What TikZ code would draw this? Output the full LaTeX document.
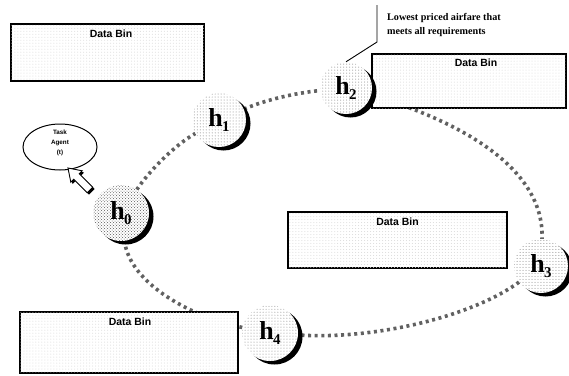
\documentclass[tikz,border=0pt]{standalone}
\usepackage{fontspec}
\setmainfont{Liberation Serif}
\newfontfamily\binfont{Liberation Sans}
\usetikzlibrary{patterns,calc,shapes.geometric}
\pgfdeclarelayer{background}
\pgfsetlayers{background,main}
\begin{document}
\begin{tikzpicture}[x=1bp,y=-1bp,
  bin/.style={rectangle, draw=black, line width=1.2bp, inner sep=0,
    fill=white, postaction={pattern=dots, pattern color=black!15}},
  bintitle/.style={inner sep=0, font=\binfont\bfseries\fontsize{10.5}{10.5}\selectfont},
  ring/.style={draw=black!62, line width=3.6bp, dash pattern=on 3bp off 3.6bp},
  host/.style={circle, inner sep=0, fill=white},
  callout/.style={draw=black, line width=0.9bp},
]
\useasboundingbox (0,0) rectangle (569,375);

% data bins
\node[bin, minimum width=193bp, minimum height=57bp] (bin1) at (107.5,52.5) {};
\node[bin, minimum width=194bp, minimum height=54bp] (bin2) at (469,81) {};
\node[bin, minimum width=219bp, minimum height=56bp] (bin3) at (397.5,240) {};
\node[bin, minimum width=218bp, minimum height=61bp] (bin4) at (129,342.5) {};
\node[bintitle] (t1) at ($(bin1.north)+(3.5,10)$) {Data Bin};
\node[bintitle] (t2) at ($(bin2.north)+(7,9)$) {Data Bin};
\node[bintitle] (t3) at ($(bin3.north)+(0,10)$) {Data Bin};
\node[bintitle] (t4) at ($(bin4.north)+(1,10)$) {Data Bin};

% hosts: shaded disc with a dark crescent on the lower right
\foreach \n/\x/\y/\r/\p/\c in {0/121/213/28/crosshatch dots/black!65,
                              1/219/120/27/dots/black!50,
                              2/346/88/26/dots/black!50,
                              3/541/266/27/dots/black!50,
                              4/270/333/28/dots/black!50}{
  \fill[black] (\x+4.5,\y+3.5) circle[radius=\r bp];
  \node[host, minimum size={2*\r bp}, postaction={pattern=\p, pattern color=\c}]
    (h\n) at (\x,\y) {};
  \node[inner sep=0, font=\bfseries\fontsize{26}{26}\selectfont] (l\n) at (\x,\y)
    {h\kern-0.5bp\raisebox{-4.5bp}{\fontsize{15}{15}\selectfont\n}};
}

% ring connecting the hosts, kept behind everything else
\begin{pgfonlayer}{background}
\fill[white] (0,0) rectangle (569,375);
\draw[ring] (h0) .. controls (150,170) and (175,145) .. (h1);
\draw[ring] (h1) .. controls (265,100) and (295,93) .. (h2);
\draw[ring] (h2) .. controls (440,115) and (545,160) .. (h3);
\draw[ring] (h3) .. controls (470,318) and (370,340) .. (h4);
\draw[ring] (h4) .. controls (195,318) and (130,285) .. (h0);
\end{pgfonlayer}

% callout on h2
\coordinate (cbend) at (377,42);
\coordinate (ctop) at (377,5);
\draw[callout] (h2.north) -- (cbend) -- (ctop);
\node[anchor=west, align=left, inner sep=0,
  font=\bfseries\fontsize{10.2}{15}\selectfont] (note) at (387,25)
  {Lowest priced airfare that\\meets all requirements};

% task agent
\node[ellipse, draw=black, line width=1bp, minimum width=74bp, minimum height=46bp,
  inner sep=0] (agent) at (60,147) {};
\node[align=center, inner sep=0,
  font=\binfont\bfseries\fontsize{6.3}{10}\selectfont] (agenttext) at (60,143)
  {Task\\Agent\\(t)};

% hollow block arrow pointing at the agent
\coordinate (atip) at (68,168);
\fill[black, shift={(1.8,1.8)}] (atip) -- (82.2,170.8) -- (79.3,173.7) -- (92.8,187.2)
  -- (87.2,192.8) -- (73.7,179.3) -- (70.8,182.2) -- cycle;
\draw[fill=white, line width=0.9bp, line join=miter] (atip) -- (82.2,170.8) -- (79.3,173.7)
  -- (92.8,187.2) -- (87.2,192.8) -- (73.7,179.3) -- (70.8,182.2) -- cycle;
\end{tikzpicture}
\end{document}
